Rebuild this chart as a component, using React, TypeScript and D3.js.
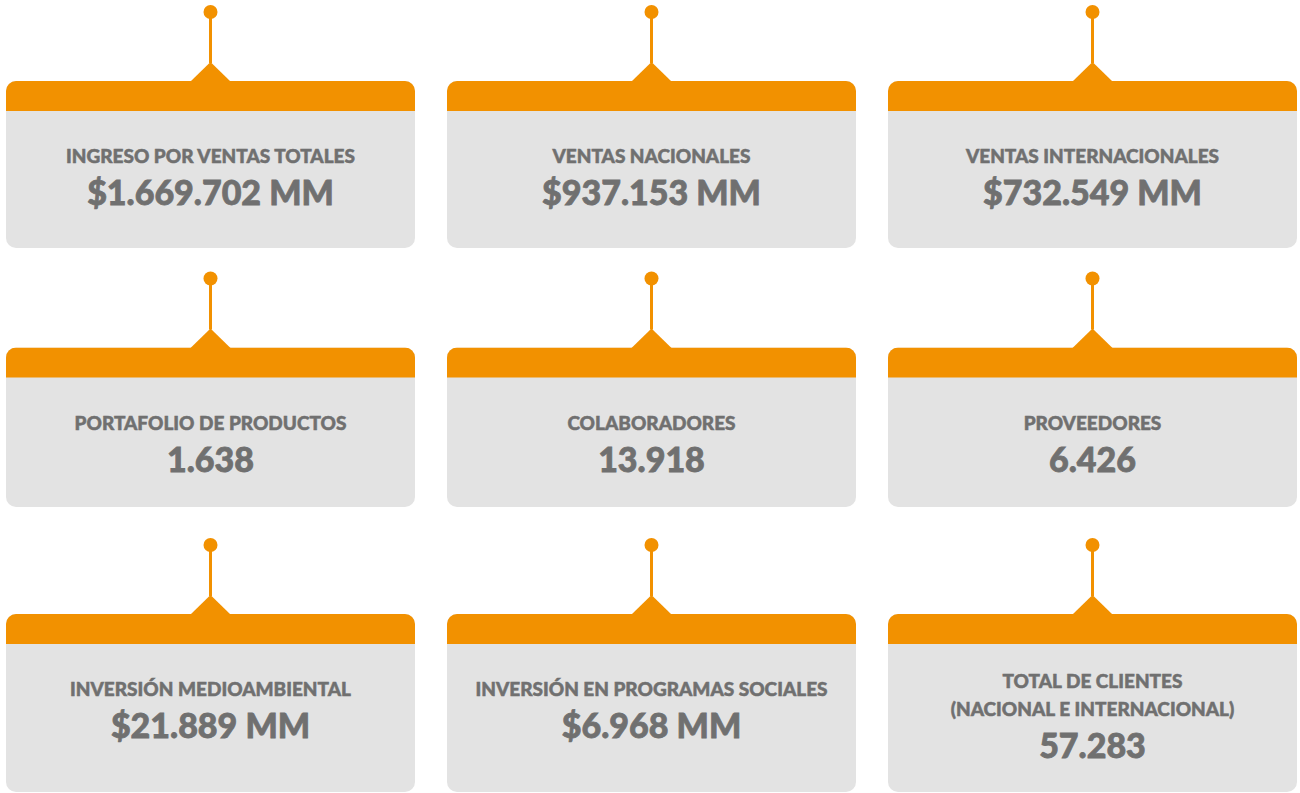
import React from 'react';
import { scaleBand, scaleLinear } from 'd3';

// tarjetas de indicadores, fila por fila
const titles = [
  ['INGRESO POR VENTAS TOTALES'],
  ['VENTAS NACIONALES'],
  ['VENTAS INTERNACIONALES'],
  ['PORTAFOLIO DE PRODUCTOS'],
  ['COLABORADORES'],
  ['PROVEEDORES'],
  ['INVERSIÓN MEDIOAMBIENTAL'],
  ['INVERSIÓN EN PROGRAMAS SOCIALES'],
  ['TOTAL DE CLIENTES', '(NACIONAL E INTERNACIONAL)'],
];
const values = [
  '$1.669.702 MM',
  '$937.153 MM',
  '$732.549 MM',
  '1.638',
  '13.918',
  '6.426',
  '$21.889 MM',
  '$6.968 MM',
  '57.283',
];

const ORANGE = '#F29100';
const GREY = '#E3E3E3';
const TEXT = '#707070';
const W = 1300;
const H = 793;

const cols = [0, 1, 2];
const rows = [0, 1, 2];
const rowBottom = [248, 507, 792];

const Card = ({ x, w, y0, bottom, title, value, id }) => {
  const cx = x + w / 2;
  const top = y0 + 69;
  const band = top + 30;
  const first = band + 52 - (title.length - 1) * 8.5;
  const lineY = scaleLinear().domain([0, 1]).range([first, first + 28.5]);
  const valueY = lineY(title.length - 1) + 42;
  return (
    <g>
      <clipPath id={`clip-${id}`}>
        <rect x={x} y={top} width={w} height={bottom - top} rx={10} ry={10} />
      </clipPath>
      <g clipPath={`url(#clip-${id})`}>
        <rect x={x} y={top} width={w} height={bottom - top} fill={GREY} />
        <rect x={x} y={top} width={w} height={band - top} fill={ORANGE} />
      </g>
      <polygon points={`${cx - 20},${top + 0.5} ${cx},${top - 19} ${cx + 20},${top + 0.5}`} fill={ORANGE} />
      <line x1={cx} x2={cx} y1={y0} y2={top - 18} stroke={ORANGE} strokeWidth={3} />
      <circle cx={cx} cy={y0} r={7} fill={ORANGE} />
      {title.map((t, i) => (
        <text key={i} x={cx} y={lineY(i)} textAnchor="middle" fill={TEXT} stroke={TEXT} strokeWidth={0.5}
          style={{ fontFamily: 'Lato, "Open Sans", sans-serif', fontWeight: 900, fontSize: 19 }}>{t}</text>
      ))}
      <text x={cx} y={valueY} textAnchor="middle" fill={TEXT} stroke={TEXT} strokeWidth={0.8}
        style={{ fontFamily: 'Lato, "Open Sans", sans-serif', fontWeight: 900, fontSize: 34 }}>{value}</text>
    </g>
  );
};

export default function App() {
  const xScale = scaleBand<number>().domain(cols).range([6, 1297]).paddingInner(32 / 441);
  const yScale = scaleLinear().domain([0, 1]).range([12, 278.5]);

  return (
    <svg width={W} height={H} style={{ position: 'absolute', left: 0, top: 0, background: '#fff' }}>
      {rows.map(r => cols.map(c => {
        const i = r * 3 + c;
        return (
          <Card key={i} id={i} x={xScale(c)} w={xScale.bandwidth()} y0={yScale(r)}
            bottom={rowBottom[r]} title={titles[i]} value={values[i]} />
        );
      }))}
    </svg>
  );
}
